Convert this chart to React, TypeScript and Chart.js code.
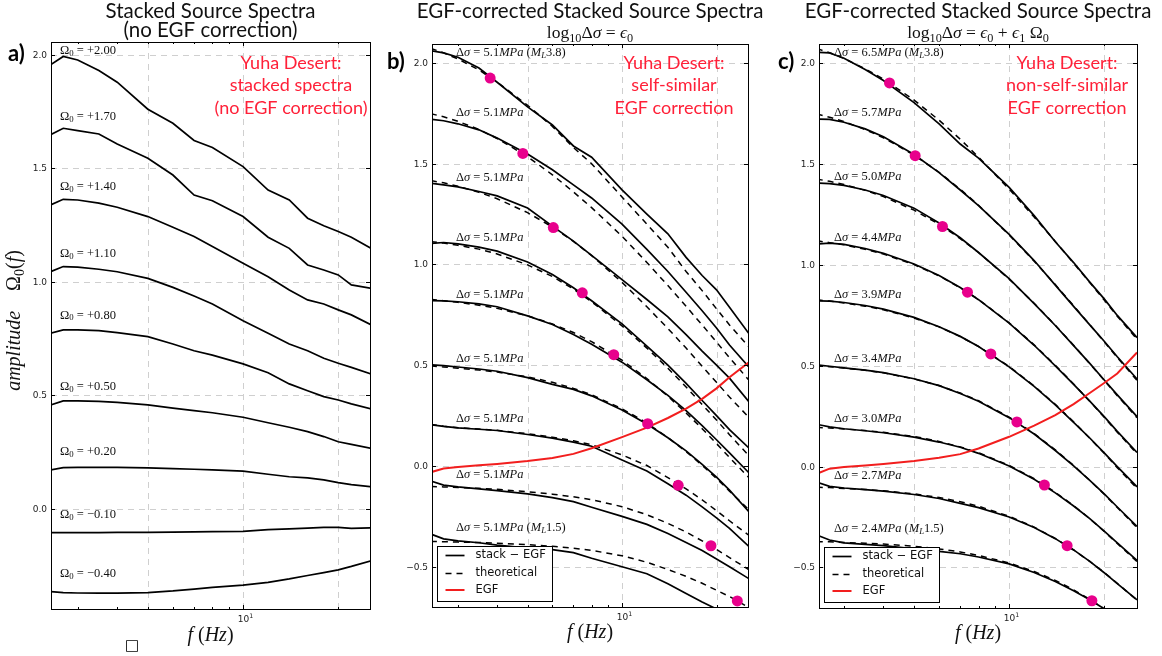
import React, { useEffect, useRef } from "react";
import { Chart, registerables } from "chart.js";

Chart.register(...registerables);

// ---------------- data ----------------
const FREQ_HZ = [2.46, 2.7, 3, 3.5, 4, 5, 6, 7, 8, 10, 12, 14, 16, 18, 20, 22, 25.4];

// panel a: stacked spectra, no EGF correction
const A_OMEGA0 = [2.0, 1.7, 1.4, 1.1, 0.8, 0.5, 0.2, -0.1, -0.4];
const A_STACK_1 = [1.956, 1.993, 1.978, 1.931, 1.88, 1.761, 1.699, 1.623, 1.592, 1.508, 1.405, 1.361, 1.281, 1.248, 1.222, 1.197, 1.148];
const A_STACK_2 = [1.648, 1.677, 1.667, 1.652, 1.608, 1.545, 1.471, 1.383, 1.358, 1.288, 1.197, 1.148, 1.075, 1.053, 1.031, 0.987, 0.972];
const A_STACK_3 = [1.339, 1.364, 1.361, 1.347, 1.329, 1.288, 1.241, 1.2, 1.156, 1.082, 1.023, 0.965, 0.921, 0.903, 0.877, 0.855, 0.811];
const A_STACK_4 = [1.045, 1.068, 1.065, 1.056, 1.045, 1.016, 0.976, 0.938, 0.903, 0.829, 0.774, 0.727, 0.697, 0.664, 0.642, 0.624, 0.595];
const A_STACK_5 = [0.774, 0.789, 0.789, 0.786, 0.777, 0.759, 0.727, 0.697, 0.678, 0.639, 0.6, 0.551, 0.521, 0.495, 0.48, 0.463, 0.441];
const A_STACK_6 = [0.458, 0.476, 0.476, 0.474, 0.47, 0.459, 0.444, 0.433, 0.424, 0.404, 0.38, 0.36, 0.341, 0.319, 0.296, 0.285, 0.267];
const A_STACK_7 = [0.172, 0.182, 0.183, 0.183, 0.183, 0.181, 0.178, 0.175, 0.172, 0.167, 0.153, 0.142, 0.137, 0.128, 0.116, 0.107, 0.098];
const A_STACK_8 = [-0.104, -0.104, -0.104, -0.104, -0.103, -0.103, -0.102, -0.101, -0.1, -0.099, -0.091, -0.088, -0.084, -0.081, -0.081, -0.085, -0.083];
const A_STACK_9 = [-0.364, -0.368, -0.37, -0.371, -0.371, -0.368, -0.361, -0.353, -0.345, -0.335, -0.323, -0.308, -0.293, -0.28, -0.268, -0.253, -0.228];
const A_STACKS = [A_STACK_1, A_STACK_2, A_STACK_3, A_STACK_4, A_STACK_5, A_STACK_6, A_STACK_7, A_STACK_8, A_STACK_9];

// panel b: self-similar EGF correction
const B_STRESS_MPA = [5.1, 5.1, 5.1, 5.1, 5.1, 5.1, 5.1, 5.1, 5.1];
const B_STACK_1 = [2.061, 2.05, 2.028, 1.975, 1.904, 1.782, 1.692, 1.588, 1.532, 1.37, 1.25, 1.152, 1.035, 0.945, 0.874, 0.787, 0.656];
const B_STACK_2 = [1.721, 1.713, 1.698, 1.668, 1.627, 1.548, 1.47, 1.395, 1.33, 1.2, 1.075, 0.965, 0.862, 0.77, 0.685, 0.6, 0.49];
const B_STACK_3 = [1.403, 1.395, 1.385, 1.362, 1.34, 1.28, 1.19, 1.116, 1.045, 0.925, 0.826, 0.74, 0.652, 0.57, 0.5, 0.436, 0.318];
const B_STACK_4 = [1.104, 1.109, 1.102, 1.086, 1.066, 1.012, 0.95, 0.884, 0.82, 0.705, 0.595, 0.5, 0.41, 0.325, 0.25, 0.18, 0.088];
const B_STACK_5 = [0.821, 0.819, 0.815, 0.804, 0.79, 0.745, 0.702, 0.652, 0.604, 0.515, 0.428, 0.35, 0.275, 0.2, 0.13, 0.065, -0.035];
const B_STACK_6 = [0.502, 0.498, 0.491, 0.481, 0.47, 0.438, 0.405, 0.38, 0.348, 0.278, 0.208, 0.14, 0.075, 0.008, -0.055, -0.12, -0.228];
const B_STACK_7 = [0.204, 0.196, 0.189, 0.182, 0.176, 0.156, 0.138, 0.118, 0.098, 0.03, -0.025, -0.088, -0.145, -0.203, -0.258, -0.31, -0.4];
const B_STACK_8 = [-0.075, -0.095, -0.104, -0.114, -0.122, -0.139, -0.157, -0.177, -0.205, -0.25, -0.29, -0.335, -0.38, -0.42, -0.462, -0.5, -0.56];
const B_STACK_9 = [-0.338, -0.362, -0.372, -0.381, -0.393, -0.408, -0.415, -0.43, -0.458, -0.5, -0.535, -0.585, -0.633, -0.675, -0.71, -0.745, -0.8];
const B_THEORY_1 = [2.072, 2.05, 2.02, 1.965, 1.905, 1.79, 1.685, 1.58, 1.5, 1.335, 1.2, 1.085, 0.965, 0.87, 0.78, 0.7, 0.59];
const B_THEORY_2 = [1.748, 1.733, 1.71, 1.67, 1.625, 1.535, 1.445, 1.36, 1.282, 1.14, 1.01, 0.895, 0.792, 0.7, 0.615, 0.537, 0.425];
const B_THEORY_3 = [1.416, 1.405, 1.388, 1.358, 1.326, 1.257, 1.186, 1.114, 1.044, 0.911, 0.79, 0.682, 0.585, 0.495, 0.415, 0.342, 0.24];
const B_THEORY_4 = [1.113, 1.106, 1.095, 1.076, 1.052, 0.998, 0.94, 0.878, 0.815, 0.695, 0.585, 0.485, 0.392, 0.305, 0.228, 0.155, 0.05];
const B_THEORY_5 = [0.826, 0.82, 0.812, 0.798, 0.782, 0.745, 0.705, 0.662, 0.617, 0.525, 0.434, 0.346, 0.263, 0.185, 0.111, 0.042, -0.059];
const B_THEORY_6 = [0.496, 0.491, 0.485, 0.476, 0.466, 0.442, 0.415, 0.385, 0.353, 0.284, 0.213, 0.141, 0.071, 0.003, -0.062, -0.125, -0.218];
const B_THEORY_7 = [0.206, 0.197, 0.19, 0.183, 0.177, 0.16, 0.143, 0.125, 0.105, 0.055, 0.002, -0.058, -0.114, -0.168, -0.222, -0.272, -0.345];
const B_THEORY_8 = [-0.102, -0.104, -0.107, -0.111, -0.116, -0.128, -0.14, -0.153, -0.167, -0.202, -0.242, -0.285, -0.328, -0.372, -0.414, -0.455, -0.515];
const B_THEORY_9 = [-0.375, -0.376, -0.378, -0.38, -0.384, -0.39, -0.399, -0.408, -0.419, -0.446, -0.478, -0.514, -0.548, -0.582, -0.617, -0.648, -0.703];
const B_STACKS = [B_STACK_1, B_STACK_2, B_STACK_3, B_STACK_4, B_STACK_5, B_STACK_6, B_STACK_7, B_STACK_8, B_STACK_9];
const B_THEORY = [B_THEORY_1, B_THEORY_2, B_THEORY_3, B_THEORY_4, B_THEORY_5, B_THEORY_6, B_THEORY_7, B_THEORY_8, B_THEORY_9];
const B_EGF = [-0.031, -0.013, -0.005, 0.003, 0.01, 0.024, 0.04, 0.06, 0.088, 0.143, 0.19, 0.238, 0.285, 0.333, 0.385, 0.44, 0.515];
const B_CORNER_HZ = [3.8, 4.83, 6.04, 7.47, 9.41, 12.07, 15.1, 19.2, 23.3];
const B_CORNER_AMP = [1.925, 1.551, 1.183, 0.859, 0.552, 0.21, -0.096, -0.396, -0.67];

// panel c: non-self-similar EGF correction
const C_STRESS_MPA = [6.5, 5.7, 5.0, 4.4, 3.9, 3.4, 3.0, 2.7, 2.4];
const C_STACK_1 = [2.055, 2.052, 2.025, 1.97, 1.915, 1.805, 1.7, 1.6, 1.53, 1.385, 1.245, 1.115, 1.012, 0.915, 0.832, 0.75, 0.64];
const C_STACK_2 = [1.724, 1.722, 1.708, 1.675, 1.636, 1.548, 1.458, 1.372, 1.295, 1.152, 1.022, 0.9, 0.795, 0.703, 0.622, 0.545, 0.435];
const C_STACK_3 = [1.406, 1.404, 1.395, 1.372, 1.345, 1.282, 1.208, 1.135, 1.062, 0.932, 0.808, 0.7, 0.6, 0.512, 0.43, 0.356, 0.248];
const C_STACK_4 = [1.104, 1.108, 1.102, 1.082, 1.058, 1.005, 0.948, 0.888, 0.828, 0.712, 0.602, 0.5, 0.408, 0.325, 0.248, 0.175, 0.07];
const C_STACK_5 = [0.822, 0.821, 0.814, 0.799, 0.781, 0.74, 0.694, 0.646, 0.596, 0.495, 0.398, 0.306, 0.22, 0.142, 0.068, 0.0, -0.1];
const C_STACK_6 = [0.505, 0.498, 0.49, 0.479, 0.466, 0.436, 0.402, 0.363, 0.324, 0.243, 0.162, 0.08, 0.004, -0.068, -0.135, -0.2, -0.296];
const C_STACK_7 = [0.21, 0.197, 0.188, 0.178, 0.168, 0.146, 0.122, 0.096, 0.066, 0.003, -0.063, -0.13, -0.195, -0.258, -0.32, -0.378, -0.465];
const C_STACK_8 = [-0.077, -0.098, -0.106, -0.114, -0.121, -0.138, -0.158, -0.182, -0.203, -0.25, -0.302, -0.357, -0.413, -0.47, -0.526, -0.58, -0.66];
const C_STACK_9 = [-0.339, -0.364, -0.378, -0.385, -0.392, -0.408, -0.42, -0.432, -0.448, -0.482, -0.525, -0.57, -0.615, -0.66, -0.705, -0.753, -0.826];
const C_THEORY_1 = [2.073, 2.053, 2.024, 1.973, 1.922, 1.818, 1.718, 1.624, 1.535, 1.376, 1.238, 1.117, 1.009, 0.913, 0.826, 0.746, 0.632];
const C_THEORY_2 = [1.749, 1.733, 1.711, 1.672, 1.631, 1.545, 1.46, 1.376, 1.296, 1.149, 1.019, 0.903, 0.798, 0.704, 0.619, 0.541, 0.428];
const C_THEORY_3 = [1.426, 1.415, 1.399, 1.37, 1.339, 1.272, 1.202, 1.131, 1.062, 0.93, 0.81, 0.701, 0.602, 0.511, 0.428, 0.352, 0.242];
const C_THEORY_4 = [1.12, 1.111, 1.1, 1.078, 1.054, 1.002, 0.946, 0.887, 0.829, 0.713, 0.604, 0.503, 0.41, 0.324, 0.245, 0.171, 0.064];
const C_THEORY_5 = [0.827, 0.821, 0.812, 0.796, 0.778, 0.737, 0.693, 0.645, 0.596, 0.497, 0.4, 0.309, 0.222, 0.141, 0.066, -0.005, -0.108];
const C_THEORY_6 = [0.5, 0.496, 0.489, 0.478, 0.465, 0.435, 0.402, 0.365, 0.327, 0.246, 0.164, 0.083, 0.006, -0.068, -0.137, -0.203, -0.302];
const C_THEORY_7 = [0.194, 0.192, 0.187, 0.179, 0.17, 0.15, 0.125, 0.098, 0.069, 0.006, -0.06, -0.127, -0.193, -0.258, -0.321, -0.381, -0.471];
const C_THEORY_8 = [-0.102, -0.104, -0.108, -0.113, -0.12, -0.135, -0.153, -0.174, -0.196, -0.246, -0.3, -0.356, -0.413, -0.47, -0.525, -0.579, -0.662];
const C_THEORY_9 = [-0.372, -0.373, -0.376, -0.38, -0.384, -0.395, -0.408, -0.423, -0.44, -0.478, -0.52, -0.564, -0.611, -0.658, -0.706, -0.753, -0.826];
const C_STACKS = [C_STACK_1, C_STACK_2, C_STACK_3, C_STACK_4, C_STACK_5, C_STACK_6, C_STACK_7, C_STACK_8, C_STACK_9];
const C_THEORY = [C_THEORY_1, C_THEORY_2, C_THEORY_3, C_THEORY_4, C_THEORY_5, C_THEORY_6, C_THEORY_7, C_THEORY_8, C_THEORY_9];
const C_EGF = [-0.035, -0.01, -0.002, 0.006, 0.013, 0.028, 0.044, 0.062, 0.09, 0.148, 0.203, 0.255, 0.31, 0.365, 0.415, 0.462, 0.566];
const C_CORNER_HZ = [4.18, 5.04, 6.15, 7.38, 8.75, 10.58, 12.93, 15.26, 18.28];
const C_CORNER_AMP = [1.903, 1.542, 1.191, 0.865, 0.559, 0.222, -0.091, -0.392, -0.665];

const ML_LARGEST = "3.8";
const ML_SMALLEST = "1.5";
const X_GRID_HZ = [5, 10, 20];
const X_MINOR_HZ = [3, 4, 5, 6, 7, 8, 9, 20];

// ---------------- style ----------------
const SERIF = '"Liberation Serif", "DejaVu Serif", serif';
const SANS = '"DejaVu Sans", sans-serif';
const TITLE = 'Lato, "Open Sans", sans-serif';
const RED_TEXT = "rgb(255,32,56)";
const RED_LINE = "rgb(242,30,30)";
const DOT = "rgb(232,0,140)";

type Seg = { t: string; it?: boolean; sub?: boolean; sup?: boolean };

function segFont(s: Seg, size: number, family: string) {
  const sz = s.sub || s.sup ? size * 0.7 : size;
  return `${s.it ? "italic " : ""}${sz}px ${family}`;
}
function richWidth(ctx: CanvasRenderingContext2D, segs: Seg[], size: number, family: string) {
  let w = 0;
  for (const s of segs) {
    ctx.font = segFont(s, size, family);
    w += ctx.measureText(s.t).width;
  }
  return w;
}
function drawRich(
  ctx: CanvasRenderingContext2D,
  segs: Seg[],
  x: number,
  y: number,
  size: number,
  family: string,
  align: "left" | "center"
) {
  const w = richWidth(ctx, segs, size, family);
  let cx = align === "center" ? x - w / 2 : x;
  ctx.textAlign = "left";
  for (const s of segs) {
    ctx.font = segFont(s, size, family);
    const dy = s.sub ? size * 0.22 : s.sup ? -size * 0.4 : 0;
    ctx.fillText(s.t, cx, y + dy);
    cx += ctx.measureText(s.t).width;
  }
}

const fmtSigned = (v: number) => (v >= 0 ? "+" : "\u2212") + Math.abs(v).toFixed(2);
const omegaLabel = (v: number): Seg[] => [{ t: "\u03a9" }, { t: "0", sub: true }, { t: " = " + fmtSigned(v) }];
const stressLabel = (s: number, ml?: string): Seg[] => {
  const segs: Seg[] = [{ t: "\u0394" }, { t: "\u03c3", it: true }, { t: " = " + s.toFixed(1) }, { t: "MPa", it: true }];
  if (ml) segs.push({ t: " (" }, { t: "M", it: true }, { t: "L", it: true, sub: true }, { t: ml + ")" });
  return segs;
};
const stressLabels = (arr: number[]) =>
  arr.map((s, i) => stressLabel(s, i === 0 ? ML_LARGEST : i === arr.length - 1 ? ML_SMALLEST : undefined));

type PanelSpec = {
  pageLeft: number;
  width: number;
  pad: { left: number; top: number; right: number; bottom: number };
  xMin: number;
  xMax: number;
  yMin: number;
  yMax: number;
  stacks: number[][];
  theory?: number[][];
  egf?: number[];
  cornerHz?: number[];
  cornerAmp?: number[];
  labels: Seg[][];
  labelX: number;
  labelDy: number;
  title: string[];
  subtitle?: Seg[];
  red: string[];
  redX: number;
  letter: string;
  letterX: number;
  letterY: number;
  xTitleY: number;
  yTitle?: boolean;
  legend?: boolean;
  mark?: boolean;
};

const PANELS: PanelSpec[] = [
  {
    pageLeft: 0,
    width: 385,
    pad: { left: 51, top: 42, right: 15, bottom: 47 },
    xMin: 2.47,
    xMax: 25.2,
    yMin: -0.4405,
    yMax: 2.057,
    stacks: A_STACKS,
    labels: A_OMEGA0.map(omegaLabel),
    labelX: 60,
    labelDy: -18,
    title: ["Stacked Source Spectra", "(no EGF correction)"],
    red: ["Yuha Desert:", "stacked spectra", "(no EGF correction)"],
    redX: 291,
    letter: "a)",
    letterX: 8,
    letterY: 61,
    xTitleY: 641,
    yTitle: true,
    mark: true,
  },
  {
    pageLeft: 385,
    width: 385,
    pad: { left: 47, top: 44, right: 22, bottom: 49 },
    xMin: 2.48,
    xMax: 25.2,
    yMin: -0.7,
    yMax: 2.094,
    stacks: B_STACKS,
    theory: B_THEORY,
    egf: B_EGF,
    cornerHz: B_CORNER_HZ,
    cornerAmp: B_CORNER_AMP,
    labels: stressLabels(B_STRESS_MPA),
    labelX: 456,
    labelDy: -6,
    title: ["EGF-corrected Stacked Source Spectra"],
    subtitle: [
      { t: "log" },
      { t: "10", sub: true },
      { t: "\u0394" },
      { t: "\u03c3", it: true },
      { t: " = " },
      { t: "\u03f5", it: true },
      { t: "0", sub: true },
    ],
    red: ["Yuha Desert:", "self-similar", "EGF correction"],
    redX: 674,
    letter: "b)",
    letterX: 387,
    letterY: 69,
    xTitleY: 638,
    legend: true,
  },
  {
    pageLeft: 770,
    width: 392,
    pad: { left: 49, top: 44, right: 25, bottom: 48 },
    xMin: 2.5,
    xMax: 25.4,
    yMin: -0.701,
    yMax: 2.096,
    stacks: C_STACKS,
    theory: C_THEORY,
    egf: C_EGF,
    cornerHz: C_CORNER_HZ,
    cornerAmp: C_CORNER_AMP,
    labels: stressLabels(C_STRESS_MPA),
    labelX: 834,
    labelDy: -6,
    title: ["EGF-corrected Stacked Source Spectra"],
    subtitle: [
      { t: "log" },
      { t: "10", sub: true },
      { t: "\u0394" },
      { t: "\u03c3", it: true },
      { t: " = " },
      { t: "\u03f5", it: true },
      { t: "0", sub: true },
      { t: " + " },
      { t: "\u03f5", it: true },
      { t: "1", sub: true },
      { t: " \u03a9" },
      { t: "0", sub: true },
    ],
    red: ["Yuha Desert:", "non-self-similar", "EGF correction"],
    redX: 1067,
    letter: "c)",
    letterX: 778,
    letterY: 69,
    xTitleY: 639,
    legend: true,
  },
];

function yTickValues(min: number, max: number) {
  const out: number[] = [];
  for (let v = Math.ceil(min / 0.5) * 0.5; v <= max + 1e-9; v += 0.5) out.push(Math.round(v * 10) / 10);
  return out;
}

function makeDecor(spec: PanelSpec) {
  const px = (pageX: number) => pageX - spec.pageLeft;
  return {
    id: "decor",
    beforeDatasetsDraw(chart: any) {
      const ctx: CanvasRenderingContext2D = chart.ctx;
      const { left, right, top, bottom } = chart.chartArea;
      const xs = chart.scales.x;
      const ys = chart.scales.y;
      ctx.save();
      ctx.strokeStyle = "#cfcfcf";
      ctx.lineWidth = 1;
      ctx.setLineDash([6, 5]);
      for (const f of X_GRID_HZ) {
        const x = Math.round(xs.getPixelForValue(f)) + 0.5;
        ctx.beginPath();
        ctx.moveTo(x, top);
        ctx.lineTo(x, bottom);
        ctx.stroke();
      }
      for (const v of yTickValues(spec.yMin, spec.yMax)) {
        const y = Math.round(ys.getPixelForValue(v)) + 0.5;
        ctx.beginPath();
        ctx.moveTo(left, y);
        ctx.lineTo(right, y);
        ctx.stroke();
      }
      ctx.restore();
    },
    afterDatasetsDraw(chart: any) {
      const ctx: CanvasRenderingContext2D = chart.ctx;
      const { left, right, top, bottom } = chart.chartArea;
      const xs = chart.scales.x;
      const ys = chart.scales.y;
      ctx.save();
      ctx.setLineDash([]);
      ctx.strokeStyle = "#000";
      ctx.lineWidth = 1;
      // frame
      ctx.strokeRect(Math.round(left) + 0.5, Math.round(top) + 0.5, Math.round(right - left), Math.round(bottom - top));
      // y ticks + labels
      ctx.fillStyle = "#222";
      ctx.font = `9px ${SANS}`;
      ctx.textAlign = "right";
      ctx.textBaseline = "middle";
      for (const v of yTickValues(spec.yMin, spec.yMax)) {
        const y = Math.round(ys.getPixelForValue(v)) + 0.5;
        ctx.beginPath();
        ctx.moveTo(left, y);
        ctx.lineTo(left + 4, y);
        ctx.moveTo(right, y);
        ctx.lineTo(right - 4, y);
        ctx.stroke();
        const txt = (v < 0 ? "\u2212" : "") + Math.abs(v).toFixed(1);
        ctx.fillText(txt, left - 4, y);
      }
      // x ticks
      for (const f of X_MINOR_HZ) {
        const x = Math.round(xs.getPixelForValue(f)) + 0.5;
        ctx.beginPath();
        ctx.moveTo(x, bottom);
        ctx.lineTo(x, bottom - 2);
        ctx.moveTo(x, top);
        ctx.lineTo(x, top + 2);
        ctx.stroke();
      }
      const x10 = Math.round(xs.getPixelForValue(10)) + 0.5;
      ctx.beginPath();
      ctx.moveTo(x10, bottom);
      ctx.lineTo(x10, bottom - 4);
      ctx.moveTo(x10, top);
      ctx.lineTo(x10, top + 4);
      ctx.stroke();
      ctx.textBaseline = "alphabetic";
      ctx.fillStyle = "#222";
      drawRich(ctx, [{ t: "10" }, { t: "1", sup: true }], x10 + 2, bottom + 13, 9, SANS, "center");

      // curve labels
      ctx.fillStyle = "#111";
      ctx.textBaseline = "middle";
      spec.labels.forEach((segs, i) => {
        const y = Math.max(top + 9, ys.getPixelForValue(spec.stacks[i][0]) + spec.labelDy);
        drawRich(ctx, segs, px(spec.labelX), y, 12.5, SERIF, "left");
      });

      // legend
      if (spec.legend) {
        const bx = Math.round(left) + 5.5;
        const by = Math.round(bottom) - 60.5;
        ctx.fillStyle = "#fff";
        ctx.fillRect(bx, by, 115, 55);
        ctx.strokeStyle = "#000";
        ctx.lineWidth = 1;
        ctx.strokeRect(bx, by, 115, 55);
        const rows = [
          { label: "stack \u2212 EGF", color: "#000", dash: [] as number[], w: 1.7 },
          { label: "theoretical", color: "#000", dash: [6, 5], w: 1.6 },
          { label: "EGF", color: RED_LINE, dash: [] as number[], w: 2 },
        ];
        const offs = [9, 27, 43.5];
        rows.forEach((r, i) => {
          const y = by + offs[i];
          ctx.strokeStyle = r.color;
          ctx.lineWidth = r.w;
          ctx.setLineDash(r.dash);
          ctx.beginPath();
          ctx.moveTo(bx + 8, y);
          ctx.lineTo(bx + 27, y);
          ctx.stroke();
          ctx.setLineDash([]);
          ctx.fillStyle = "#111";
          ctx.font = `11.5px ${SANS}`;
          ctx.textAlign = "left";
          ctx.textBaseline = "middle";
          ctx.fillText(r.label, bx + 38, y);
        });
      }

      // titles
      const cx = (left + right) / 2;
      ctx.fillStyle = "#111";
      ctx.textBaseline = "alphabetic";
      ctx.textAlign = "center";
      ctx.font = `20.5px ${TITLE}`;
      spec.title.forEach((t, i) => ctx.fillText(t, cx, 18 + i * 19));
      if (spec.subtitle) drawRich(ctx, spec.subtitle, cx, 38, 17.5, SERIF, "center");

      // red annotation
      ctx.fillStyle = RED_TEXT;
      ctx.textAlign = "center";
      ctx.font = `18px ${TITLE}`;
      spec.red.forEach((t, i) => ctx.fillText(t, px(spec.redX), 68.5 + i * 22.5));

      // panel letter
      ctx.fillStyle = "#000";
      ctx.textAlign = "left";
      ctx.font = `bold 22px ${TITLE}`;
      ctx.fillText(spec.letter, px(spec.letterX), spec.letterY);

      // x title
      ctx.fillStyle = "#111";
      drawRich(ctx, [{ t: "f", it: true }, { t: " (" }, { t: "Hz", it: true }, { t: ")" }], cx, spec.xTitleY, 20, SERIF, "center");

      // y title
      if (spec.yTitle) {
        ctx.save();
        ctx.translate(20, (top + bottom) / 2 - 5);
        ctx.rotate(-Math.PI / 2);
        drawRich(
          ctx,
          [{ t: "amplitude", it: true }, { t: "    \u03a9" }, { t: "0", sub: true }, { t: "(" }, { t: "f", it: true }, { t: ")" }],
          0,
          0,
          20,
          SERIF,
          "center"
        );
        ctx.restore();
      }
      if (spec.mark) {
        ctx.fillStyle = "#000";
        ctx.font = `15px ${SANS}`;
        ctx.textAlign = "center";
        ctx.textBaseline = "middle";
        ctx.fillText("\u25a1", px(132), 646);
      }
      ctx.restore();
    },
  };
}

function toXY(ys: number[]) {
  return FREQ_HZ.map((f, i) => ({ x: f, y: ys[i] }));
}

function buildDatasets(spec: PanelSpec) {
  const ds: any[] = [];
  if (spec.cornerHz && spec.cornerAmp) {
    ds.push({
      data: spec.cornerHz.map((f, i) => ({ x: f, y: spec.cornerAmp![i] })),
      showLine: false,
      pointRadius: 5.5,
      pointBackgroundColor: DOT,
      pointBorderColor: DOT,
      pointBorderWidth: 0,
    });
  }
  if (spec.egf) {
    ds.push({ data: toXY(spec.egf), borderColor: RED_LINE, borderWidth: 2, pointRadius: 0, fill: false });
  }
  spec.stacks.forEach((s) =>
    ds.push({ data: toXY(s), borderColor: "#000", borderWidth: 1.7, pointRadius: 0, fill: false })
  );
  if (spec.theory) {
    spec.theory.forEach((s) =>
      ds.push({ data: toXY(s), borderColor: "#000", borderWidth: 1.5, borderDash: [6, 5], pointRadius: 0, fill: false })
    );
  }
  return ds;
}

function Panel({ spec }: { spec: PanelSpec }) {
  const ref = useRef<HTMLCanvasElement | null>(null);
  useEffect(() => {
    if (!ref.current) return;
    const chart = new Chart(ref.current, {
      type: "line",
      data: { datasets: buildDatasets(spec) },
      options: {
        responsive: false,
        animation: false,
        devicePixelRatio: 1,
        events: [],
        layout: { padding: spec.pad },
        plugins: { legend: { display: false }, tooltip: { enabled: false }, title: { display: false } },
        elements: { line: { tension: 0 }, point: { radius: 0 } },
        scales: {
          x: { type: "logarithmic", min: spec.xMin, max: spec.xMax, display: false },
          y: { type: "linear", min: spec.yMin, max: spec.yMax, display: false },
        },
      },
      plugins: [makeDecor(spec)],
    } as any);
    return () => chart.destroy();
  }, [spec]);
  return (
    <canvas
      ref={ref}
      width={spec.width}
      height={656}
      style={{ position: "absolute", left: spec.pageLeft, top: 0, width: spec.width, height: 656 }}
    />
  );
}

export default function App() {
  return (
    <div style={{ position: "absolute", left: 0, top: 0, width: 1162, height: 656, background: "#fff", overflow: "hidden" }}>
      {PANELS.map((p, i) => (
        <Panel key={i} spec={p} />
      ))}
    </div>
  );
}
